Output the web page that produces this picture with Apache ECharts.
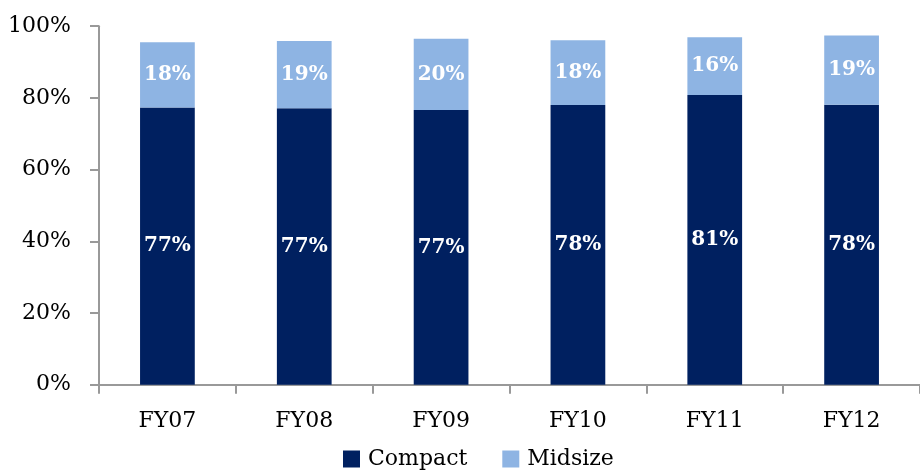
<!DOCTYPE html>
<html>
<head>
<meta charset="utf-8">
<script src="https://cdn.jsdelivr.net/npm/echarts@6/dist/echarts.min.js"></script>
<style>
html,body{margin:0;padding:0;background:#fff;}
#chart{width:920px;height:473px;}
</style>
</head>
<body>
<div id="chart"></div>
<script>
var categories = ['FY07', 'FY08', 'FY09', 'FY10', 'FY11', 'FY12'];
var compact = [77.3, 77.1, 76.6, 78.0, 80.8, 78.1];
var midsize = [18.2, 18.8, 19.9, 18.1, 16.1, 19.3];
var yTicks = [0, 20, 40, 60, 80, 100];

var FONT = 'DejaVu Serif';
var chart = echarts.init(document.getElementById('chart'));
var labelStyle = {
  show: true,
  position: 'inside',
  color: '#ffffff',
  fontFamily: FONT,
  fontWeight: 'bold',
  fontSize: 20,
  formatter: function (p) { return Math.round(p.value) + '%'; }
};
chart.setOption({
  animation: false,
  backgroundColor: '#ffffff',
  grid: { left: 99, top: 26.2, width: 832, height: 358.5, containLabel: false },
  legend: {
    data: ['Compact', 'Midsize'],
    top: 448,
    left: 343,
    itemWidth: 17,
    itemHeight: 17,
    itemGap: 35,
    padding: 0,
    icon: 'rect',
    textStyle: { fontFamily: FONT, fontSize: 22, color: '#000', padding: [0, 0, 0, 3], lineHeight: 22 }
  },
  xAxis: {
    type: 'category',
    data: categories,
    axisLine: { lineStyle: { color: '#999999', width: 2 } },
    axisTick: { show: true, length: 9, lineStyle: { color: '#999999', width: 2 } },
    axisLabel: { margin: 26, fontFamily: FONT, fontSize: 22, color: '#000' }
  },
  yAxis: {
    type: 'value',
    min: yTicks[0],
    max: yTicks[yTicks.length - 1],
    interval: 20,
    splitLine: { show: false },
    axisLine: { show: true, lineStyle: { color: '#999999', width: 2 } },
    axisTick: { show: true, length: 9, lineStyle: { color: '#999999', width: 2 } },
    axisLabel: { margin: 28, fontFamily: FONT, fontSize: 22, color: '#000', formatter: '{value}%' }
  },
  series: [
    {
      name: 'Compact', type: 'bar', stack: 'a', data: compact, barWidth: '40%',
      itemStyle: { color: '#002060' }, label: labelStyle
    },
    {
      name: 'Midsize', type: 'bar', stack: 'a', data: midsize, barWidth: '40%',
      itemStyle: { color: '#8EB4E3' }, label: labelStyle
    }
  ]
});
</script>
</body>
</html>
